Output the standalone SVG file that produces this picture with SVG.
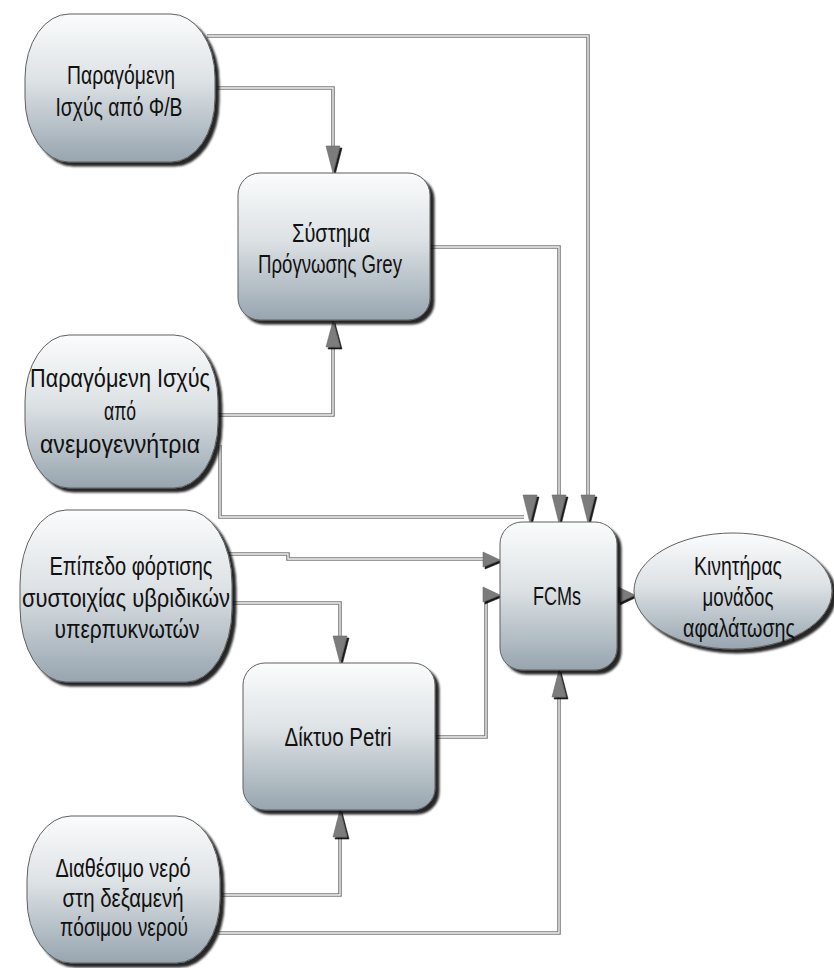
<svg xmlns="http://www.w3.org/2000/svg" xmlns:xlink="http://www.w3.org/1999/xlink" width="834" height="968" viewBox="0 0 834 968">
  <style>
    .node { fill: url(#shade); stroke: #5f5f5f; stroke-width: 1; filter: url(#drop); }
    .label { font-family: "Liberation Sans", "DejaVu Sans", sans-serif; font-size: 25px; fill: #111; text-anchor: middle; }
    .wire { fill: none; stroke: #7a7a7a; stroke-width: 3.6; stroke-linejoin: miter; }
    .core { fill: none; stroke: #f4f4f4; stroke-width: 1.3; stroke-linejoin: miter; }
    .head { fill: #7c7c7c; stroke: #6a6a6a; stroke-width: 0.6; }
  </style>
  <defs>
    <linearGradient id="shade" x1="0" y1="0" x2="0" y2="1">
      <stop offset="0" stop-color="#fbfcfc"/>
      <stop offset="0.45" stop-color="#dde2e5"/>
      <stop offset="1" stop-color="#97a5af"/>
    </linearGradient>
    <filter id="drop" x="-10%" y="-10%" width="125%" height="125%">
      <feDropShadow dx="4" dy="4" stdDeviation="1.2" flood-color="#000" flood-opacity="0.85"/>
    </filter>
    <filter id="headShadow" x="-40%" y="-40%" width="190%" height="190%">
      <feDropShadow dx="2" dy="2" stdDeviation="0.4" flood-color="#000" flood-opacity="0.9"/>
    </filter>
    <!-- connector routes, stroked twice for the piped look -->
    <path id="r1" d="M207,36 H588 V495"/>
    <path id="r2" d="M217,88 H333 V147"/>
    <path id="r3" d="M430,247 H559 V495"/>
    <path id="r4" d="M218,415 H333 V346"/>
    <path id="r5" d="M220,445 V517 H524"/>
    <path id="r6" d="M229,554 H288 V559 H484"/>
    <path id="r7" d="M232,603 H340 V637"/>
    <path id="r8" d="M435,737 H486 V596"/>
    <path id="r9" d="M617,595 H619"/>
    <path id="r10" d="M222,895 H340 V836"/>
    <path id="r11" d="M218,933 H559 V696"/>
  </defs>

  <g id="connectors">
    <use href="#r1" class="wire"/><use href="#r1" class="core"/>
    <use href="#r2" class="wire"/><use href="#r2" class="core"/>
    <use href="#r3" class="wire"/><use href="#r3" class="core"/>
    <use href="#r4" class="wire"/><use href="#r4" class="core"/>
    <use href="#r5" class="wire"/><use href="#r5" class="core"/>
    <use href="#r6" class="wire"/><use href="#r6" class="core"/>
    <use href="#r7" class="wire"/><use href="#r7" class="core"/>
    <use href="#r8" class="wire"/><use href="#r8" class="core"/>
    <use href="#r9" class="wire"/><use href="#r9" class="core"/>
    <use href="#r10" class="wire"/><use href="#r10" class="core"/>
    <use href="#r11" class="wire"/><use href="#r11" class="core"/>
    <g id="arrowheads" filter="url(#headShadow)">
      <polygon class="head" points="326,146 340,146 333,173"/>
      <polygon class="head" points="326,347 340,347 333,321"/>
      <polygon class="head" points="523,495 537,495 530,523"/>
      <polygon class="head" points="552,495 566,495 559,523"/>
      <polygon class="head" points="581,495 595,495 588,523"/>
      <polygon class="head" points="483,552 483,567 500,560"/>
      <polygon class="head" points="483,587 483,602 500,595"/>
      <polygon class="head" points="618,587 618,603 635,595"/>
      <polygon class="head" points="333,636 347,636 340,663"/>
      <polygon class="head" points="333,837 347,837 340,810"/>
      <polygon class="head" points="552,697 566,697 559,670"/>
    </g>
  </g>

  <g id="pv-power">
    <rect class="node" x="25" y="14" width="190" height="148" rx="44" ry="64"/>
    <text class="label" x="121" y="84" textLength="108" lengthAdjust="spacingAndGlyphs">Παραγόμενη</text>
    <text class="label" x="119" y="116" textLength="127" lengthAdjust="spacingAndGlyphs">Ισχύς από Φ/Β</text>
  </g>

  <g id="grey-forecast">
    <rect class="node" x="238" y="173" width="192" height="147" rx="22" ry="22"/>
    <text class="label" x="331" y="242" textLength="78" lengthAdjust="spacingAndGlyphs">Σύστημα</text>
    <text class="label" x="330" y="273" textLength="144" lengthAdjust="spacingAndGlyphs">Πρόγνωσης Grey</text>
  </g>

  <g id="wind-power">
    <rect class="node" x="25" y="335" width="193" height="153" rx="44" ry="66"/>
    <text class="label" x="120" y="387" textLength="180" lengthAdjust="spacingAndGlyphs">Παραγόμενη Ισχύς</text>
    <text class="label" x="120" y="420" textLength="32" lengthAdjust="spacingAndGlyphs">από</text>
    <text class="label" x="120" y="453" textLength="160" lengthAdjust="spacingAndGlyphs">ανεμογεννήτρια</text>
  </g>

  <g id="supercap-charge">
    <rect class="node" x="20" y="510" width="212" height="172" rx="46" ry="74"/>
    <text class="label" x="131" y="575" textLength="163" lengthAdjust="spacingAndGlyphs">Επίπεδο φόρτισης</text>
    <text class="label" x="126" y="607" textLength="208" lengthAdjust="spacingAndGlyphs">συστοιχίας υβριδικών</text>
    <text class="label" x="127" y="638" textLength="145" lengthAdjust="spacingAndGlyphs">υπερπυκνωτών</text>
  </g>

  <g id="petri-net">
    <rect class="node" x="243" y="663" width="192" height="147" rx="22" ry="22"/>
    <text class="label" x="338" y="746" textLength="107" lengthAdjust="spacingAndGlyphs">Δίκτυο Petri</text>
  </g>

  <g id="fcms">
    <rect class="node" x="500" y="522" width="117" height="148" rx="22" ry="22"/>
    <text class="label" x="557" y="605" textLength="48" lengthAdjust="spacingAndGlyphs">FCMs</text>
  </g>

  <g id="desal-motor">
    <ellipse class="node" cx="733" cy="591" rx="99" ry="58"/>
    <text class="label" x="738" y="575" textLength="88" lengthAdjust="spacingAndGlyphs">Κινητήρας</text>
    <text class="label" x="738" y="606" textLength="71" lengthAdjust="spacingAndGlyphs">μονάδος</text>
    <text class="label" x="739" y="637" textLength="112" lengthAdjust="spacingAndGlyphs">αφαλάτωσης</text>
  </g>

  <g id="water-tank">
    <rect class="node" x="27" y="816" width="193" height="147" rx="44" ry="64"/>
    <text class="label" x="123" y="877" textLength="135" lengthAdjust="spacingAndGlyphs">Διαθέσιμο νερό</text>
    <text class="label" x="123" y="907" textLength="121" lengthAdjust="spacingAndGlyphs">στη δεξαμενή</text>
    <text class="label" x="124" y="936" textLength="128" lengthAdjust="spacingAndGlyphs">πόσιμου νερού</text>
  </g>
</svg>
